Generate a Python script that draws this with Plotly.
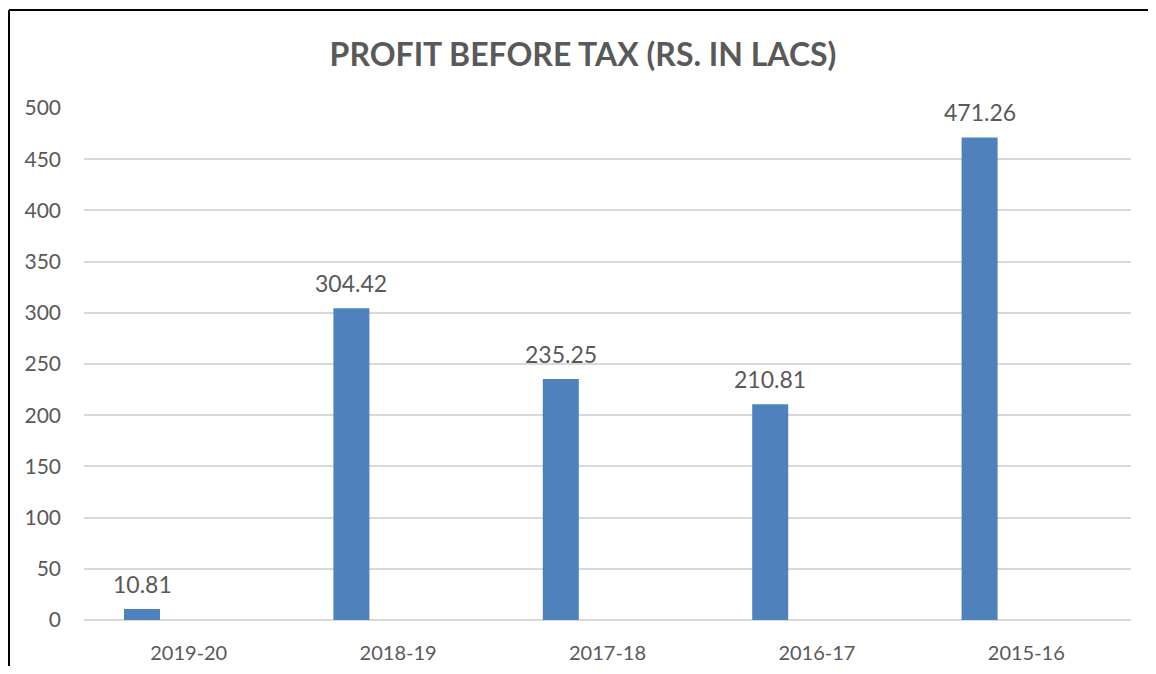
import plotly.graph_objects as go

categories = ["2019-20", "2018-19", "2017-18", "2016-17", "2015-16"]
values = [10.81, 304.42, 235.25, 210.81, 471.26]
value_labels = ["10.81", "304.42", "235.25", "210.81", "471.26"]
y_ticks = [0, 50, 100, 150, 200, 250, 300, 350, 400, 450, 500]

# page has an 8px body margin: figure starts at (8, 8) in the window
W, H = 1140, 658
ML, MR, MT, MB = 76, 17, 100, 46
plot_w = W - ML - MR
plot_h = H - MT - MB
cat_w = plot_w / len(categories)

BAR_W = 0.172
BAR_OFF = -0.309
FONT = "Lato"
TXT = "#595959"

fig = go.Figure()
fig.add_trace(go.Bar(
    x=categories, y=values,
    width=BAR_W, offset=BAR_OFF,
    marker=dict(color="#4F81BD", line=dict(width=0)),
    textposition="none",
    hoverinfo="x+y",
))

for c, v, t in zip(categories, values, value_labels):
    fig.add_annotation(
        x=c, y=v, text=t, showarrow=False,
        xref="x", yref="y", yanchor="bottom",
        xshift=(BAR_OFF + BAR_W / 2) * cat_w, yshift=9,
        font=dict(family=FONT, size=23, color=TXT),
    )

# chart frame (only top and left edges visible)
x_left = (1 - ML) / plot_w
x_right = (W - ML) / plot_w
y_top = 1 + (MT - 2) / plot_h
fig.add_shape(type="line", xref="paper", yref="paper",
              x0=x_left, x1=x_right, y0=y_top, y1=y_top,
              line=dict(color="#000000", width=2))
fig.add_shape(type="line", xref="paper", yref="paper",
              x0=x_left, x1=x_left, y0=-MB / plot_h, y1=y_top,
              line=dict(color="#000000", width=2))

fig.update_layout(
    width=W, height=H,
    margin=dict(l=ML, r=MR, t=MT, b=MB, pad=0, autoexpand=False),
    paper_bgcolor="white", plot_bgcolor="white",
    showlegend=False,
    title=dict(text="<b>PROFIT BEFORE TAX (RS. IN LACS)</b>",
               x=(583 - 8) / W, xref="container", xanchor="center",
               y=1 - (55 - 8) / H, yref="container", yanchor="middle",
               font=dict(family=FONT, size=32, color=TXT)),
    xaxis=dict(type="category", range=[-0.5, 4.5], showgrid=False,
               showline=False, ticks="", ticklabelstandoff=19,
               automargin=False,
               tickfont=dict(family=FONT, size=20, color=TXT)),
    yaxis=dict(range=[0, 500], tickvals=y_ticks, showgrid=True,
               gridcolor="#D9D9D9", gridwidth=1.5, zeroline=True,
               zerolinecolor="#D9D9D9", zerolinewidth=1.5, showline=False,
               ticks="", ticklabelstandoff=22, automargin=False,
               tickfont=dict(family=FONT, size=21, color=TXT)),
)

fig.write_html("out.html", config={"displayModeBar": False})
